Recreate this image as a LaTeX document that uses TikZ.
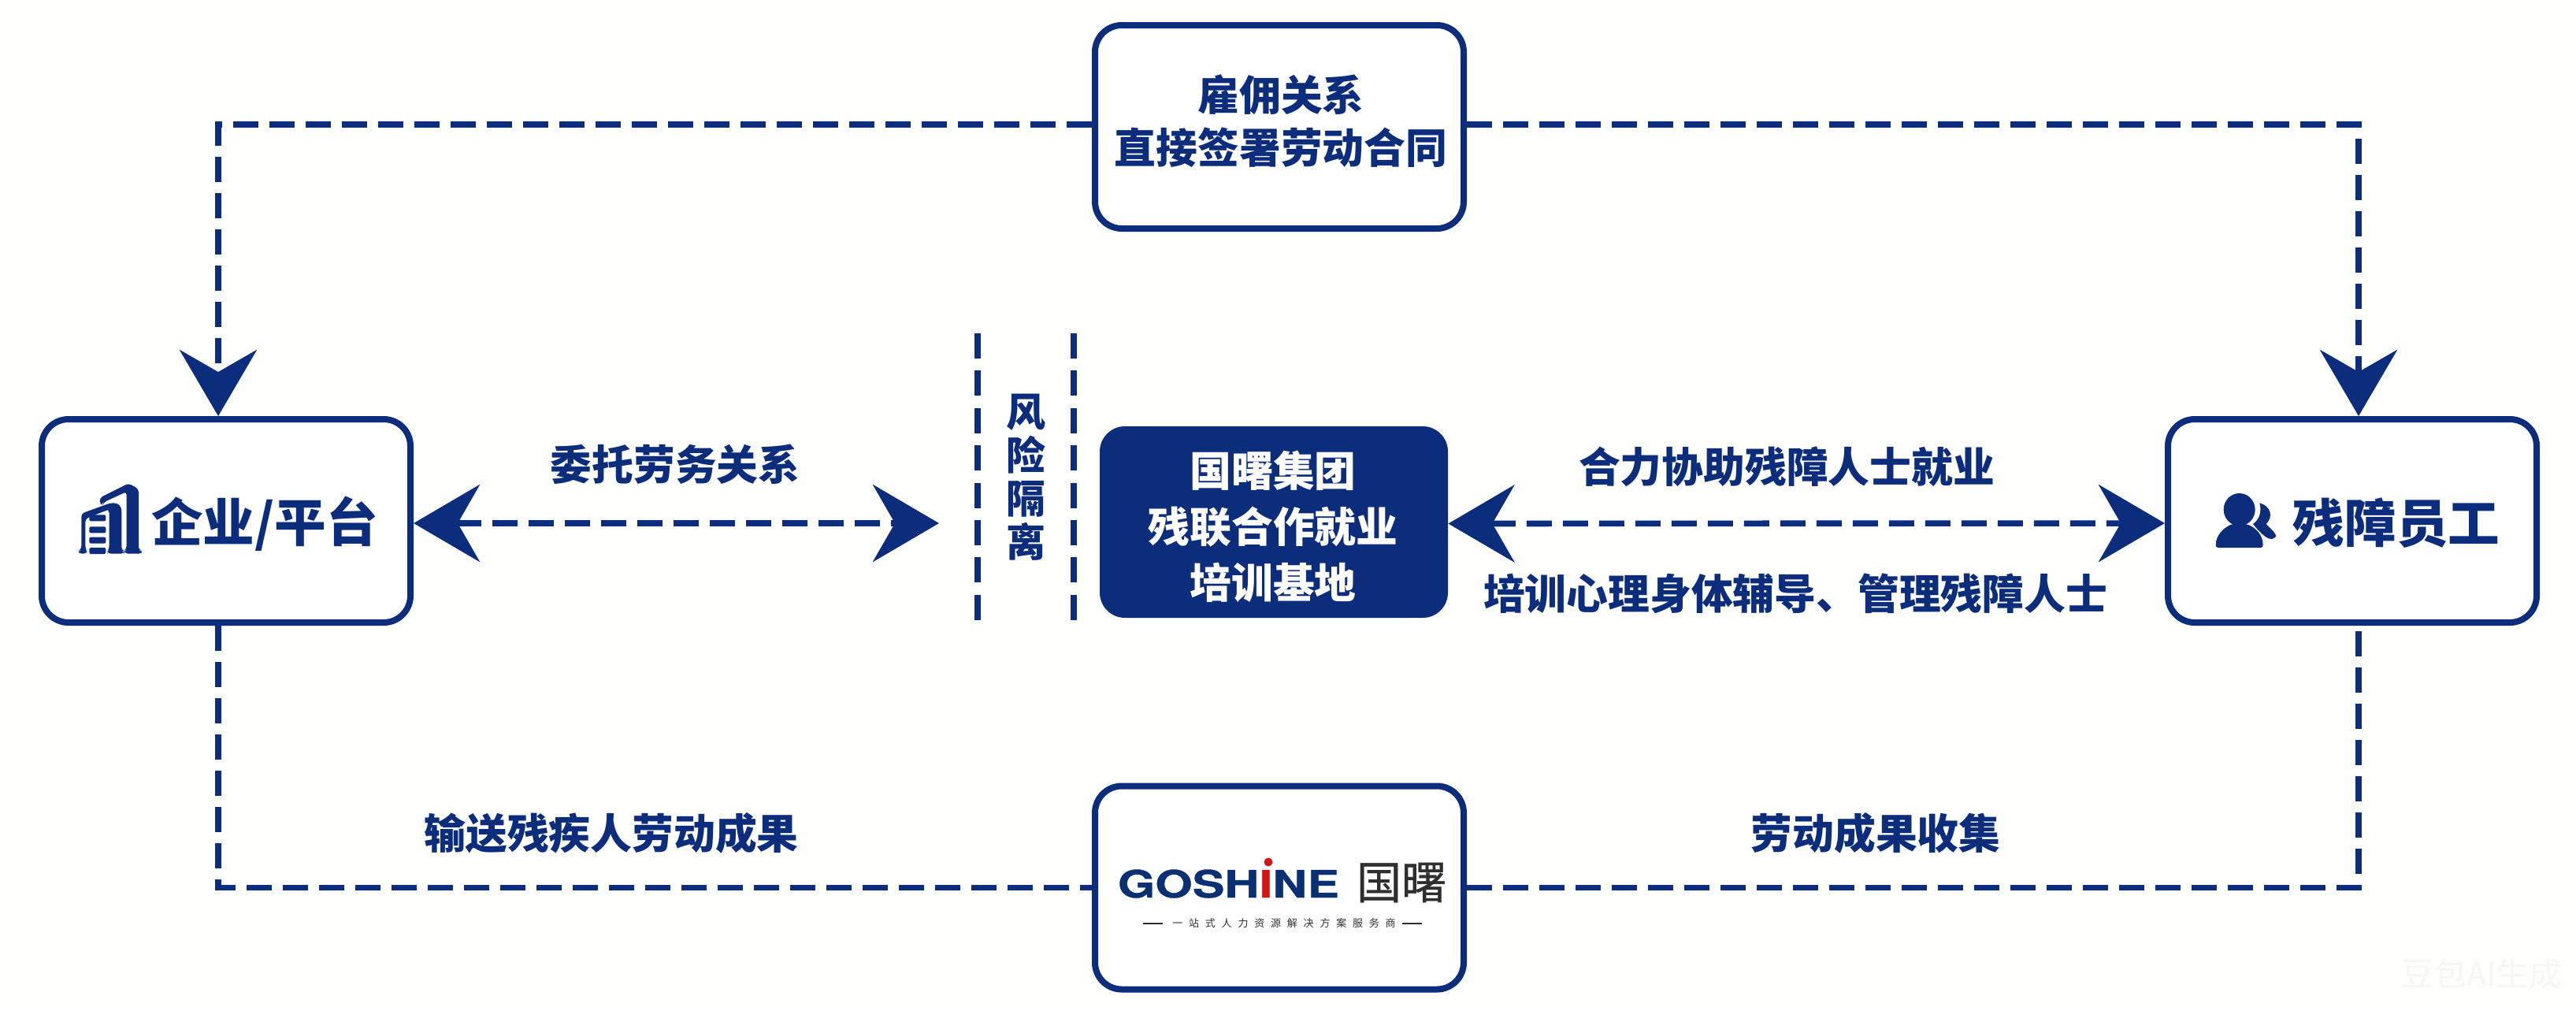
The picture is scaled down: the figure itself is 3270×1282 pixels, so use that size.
\documentclass[tikz,border=0pt]{standalone}
\usepackage{fontspec}
\setmainfont{Noto Sans CJK SC}
\newfontfamily\logofont{TeX Gyre Heros}[FakeBold=0.7]
\usetikzlibrary{arrows.meta}
\definecolor{navy}{HTML}{0C2C7C}
\definecolor{logoblue}{HTML}{0A2F73}
\definecolor{logored}{HTML}{D3141B}
\definecolor{logogray}{HTML}{2F2F2F}
\definecolor{pagebg}{HTML}{FEFEFC}
\definecolor{markgray}{HTML}{F6F6F3}
\tikzset{
  bigtip/.tip={Stealth[length=42pt,width=49pt,inset=14pt]},
  linkbox/.style={draw=navy,line width=4pt,rounded corners=17pt,fill=white,minimum width=234pt,minimum height=129pt},
  solidbox/.style={fill=navy,rounded corners=16pt,minimum width=221pt,minimum height=121.5pt},
  dashlink/.style={draw=navy,line width=3.8pt,dash pattern=on 16pt off 7pt},
  wall/.style={draw=navy,line width=3.8pt,dash pattern=on 16pt off 7.7pt},
  caption/.style={text=navy,font=\fontsize{26.4}{33.5}\selectfont\bfseries,align=center,inner sep=0pt},
  bigname/.style={text=navy,font=\fontsize{32.8}{36}\selectfont\bfseries,inner sep=0pt},
  basetext/.style={caption,text=white,font=\fontsize{26.4}{35.5}\selectfont\bfseries}
}
\begin{document}
\begin{tikzpicture}[x=0.5pt,y=-0.5pt]
  \fill[pagebg] (0,0) rectangle (3270,1282);
  \useasboundingbox (0,0) rectangle (3270,1282);

  \node[linkbox] (qiye) at (287,661) {};
  \node[linkbox] (yuangong) at (2986,661) {};
  \node[linkbox] (guanxi) at (1624,161) {};
  \node[linkbox] (logo) at (1624,1126.5) {};
  \node[solidbox] (jidi) at (1617,662.5) {};

  \node[caption] (guanxitext) at (1626,154) {雇佣关系\\直接签署劳动合同};
  \node[basetext] (jiditext) at (1616,668) {国曙集团\\残联合作就业\\培训基地};
  \node[bigname] (qiyetext) at (336,665) {企业/平台};
  \node[bigname] (yuangongtext) at (3042,664) {残障员工};
  \node[caption] (weituo) at (857,589) {委托劳务关系};
  \node[caption] (heli) at (2268,592) {合力协助残障人士就业};
  \node[caption] (peixun) at (2279,753) {培训心理身体辅导、管理残障人士};
  \node[caption] (shusong) at (776,1057) {输送残疾人劳动成果};
  \node[caption] (shouji) at (2381,1057) {劳动成果收集};
  \node[caption,font=\fontsize{25}{27.5}\selectfont\bfseries] (fengxian) at (1302,606) {风\\险\\隔\\离};

  \coordinate (gemid) at (1192,664);
  \coordinate (wallaup) at (1241,423);
  \coordinate (wallalow) at (1241,788);
  \coordinate (wallbup) at (1363,423);
  \coordinate (wallblow) at (1363,788);

  \draw[dashlink,-{bigtip}] ([yshift=1.5pt]guanxi.west) -| ([xshift=-5pt]qiye.north);
  \draw[dashlink,-{bigtip}] ([yshift=1.5pt]guanxi.east) -| ([xshift=4pt]yuangong.north);
  \draw[dashlink] ([xshift=-5pt]qiye.south) |- (logo.west);
  \draw[dashlink] (logo.east) -| ([xshift=4pt]yuangong.south);
  \draw[dashlink,{bigtip}-{bigtip}] ([yshift=-1.5pt]qiye.east) -- (gemid);
  \draw[dashlink,{bigtip}-{bigtip}] ([yshift=-1pt]jidi.east) -- ([yshift=-1.5pt]yuangong.west);
  \draw[wall] (wallaup) -- (wallalow);
  \draw[wall] (wallbup) -- (wallblow);

  \begin{scope}[shift={(90,600)},x=0.16667pt,y=-0.16667pt]
    \fill[navy,rounded corners=2pt] (110,95) -- (220,40) -- (258,62) -- (258,295) -- (270,295) -- (270,308) -- (205,308) -- (205,295) -- (212,290) -- (212,72) -- (125,112) -- (122,120) -- (110,120) -- cycle;
    \fill[navy,rounded corners=2pt] (40,155) -- (150,115) .. controls (180,115) and (193,125) .. (193,160) -- (193,295) -- (203,298) -- (203,308) -- (140,308) -- (140,298) -- (146,290) -- (146,165) .. controls (146,150) and (140,142) .. (130,145) -- (55,175) -- (55,290) -- (60,297) -- (60,308) -- (30,308) -- (30,298) -- (40,290) -- cycle;
    \foreach \bary in {160,205,245,285}
      \fill[navy,rounded corners=1pt] (70,\bary) rectangle (133,\bary+24);
  \end{scope}

  \begin{scope}[shift={(2800,615)},x=0.16667pt,y=-0.16667pt]
    \fill[navy] (128,95) ellipse [x radius=60,y radius=62];
    \fill[navy,rounded corners=1.5pt] (38,240) .. controls (38,190) and (70,165) .. (100,150) -- (155,150) .. controls (190,165) and (218,190) .. (218,240) -- cycle;
    \fill[navy] (205,70) .. controls (245,80) and (260,120) .. (230,150) .. controls (245,165) and (262,180) .. (268,195) .. controls (260,210) and (245,210) .. (230,200) .. controls (215,190) and (195,170) .. (180,150) .. controls (200,135) and (215,110) .. (205,70) -- cycle;
  \end{scope}

  \node[inner sep=0pt,font=\logofont\fontsize{24}{24}\selectfont\bfseries,text=logoblue] (goshine) at (1559.5,1121.5) {\scalebox{1.27}[1]{GOSH\textcolor{logored}{I}NE}};
  \node[circle,fill=logored,inner sep=0pt,minimum size=5.5pt] (logodot) at (1610,1094) {};
  \node[inner sep=0pt,font=\fontsize{28.5}{30}\selectfont,text=logogray] (guoshu) at (1779,1120) {\addfontfeature{FakeBold=0.6}国曙};
  \node[inner sep=0pt,font=\fontsize{6.5}{8}\selectfont,text=logogray] (tagline) at (1630,1172) {\addfontfeature{LetterSpace=60}一站式人力资源解决方案服务商};
  \draw[logogray,line width=0.8pt] ([xshift=-6pt]tagline.west) -- ++(-12.5pt,0);
  \draw[logogray,line width=0.8pt] ([xshift=4pt]tagline.east) -- ++(12.5pt,0);

  \node[inner sep=0pt,text=markgray,font=\fontsize{20.8}{22}\selectfont] (mark) at (3150,1236) {豆包AI生成};
\end{tikzpicture}
\end{document}
